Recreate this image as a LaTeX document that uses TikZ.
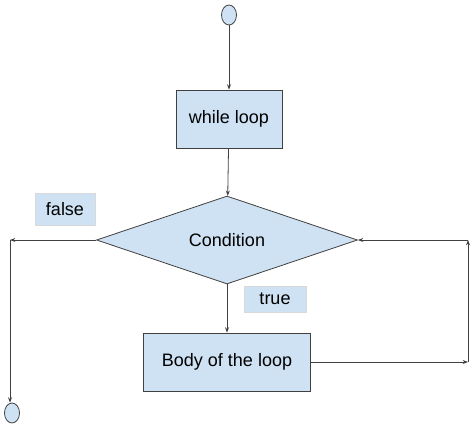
\documentclass[tikz,border=0pt]{standalone}
\usepackage{fontspec}
\setmainfont{Liberation Sans}
\usetikzlibrary{shapes.geometric,arrows.meta}
\definecolor{lblue}{HTML}{CFE2F3}
\begin{document}
\begin{tikzpicture}[x=0.75pt,y=-0.75pt,
  fl/.style={draw=black!75,fill=lblue,line width=0.6pt},
  bx/.style={fl,rectangle,inner sep=0pt,font=\fontsize{13.5}{16}\selectfont},
  lb/.style={fill=lblue,draw=black!15,rectangle,inner sep=0pt,font=\fontsize{13.5}{16}\selectfont},
  ar/.style={draw=black!75,line width=0.6pt,-{Stealth[length=4pt,width=3pt]}}]
\useasboundingbox (0,0) rectangle (474,429);
\node[fl,ellipse,minimum width=11.25pt,minimum height=15pt,inner sep=0pt] (s) at (229,15) {};
\node[bx,minimum width=79.5pt,minimum height=43.5pt] (w) at (229,119) {while loop};
\node[fl,diamond,aspect=2.95,minimum width=195.75pt,minimum height=66pt,inner sep=0pt,font=\fontsize{13.5}{16}\selectfont] (c) at (227,240) {Condition};
\node[lb,minimum width=45pt,minimum height=24pt] (f) at (65,209) {false};
\node[lb,minimum width=46.5pt,minimum height=19.5pt] (t) at (275,299) {true};
\node[bx,minimum width=125.25pt,minimum height=43.5pt] (b) at (227,362) {Body of the loop};
\node[fl,ellipse,minimum width=11.25pt,minimum height=15pt,inner sep=0pt] (e) at (12,413) {};
\coordinate (r1) at (468,362);
\coordinate (r2) at (468,240);
\coordinate (l1) at (10,240);
\draw[ar] (s) -- (w);
\draw[ar] (w) -- (c);
\draw[ar] (c.south) -- (b.north -| c.south);
\draw[ar] (b.east) -- (r1);
\draw[ar] (r1) -- (r2);
\draw[ar] (r2) -- (c.east);
\draw[ar] (c.west) -- (l1);
\draw[ar] (l1) -- (e.north -| l1);
\end{tikzpicture}
\end{document}
